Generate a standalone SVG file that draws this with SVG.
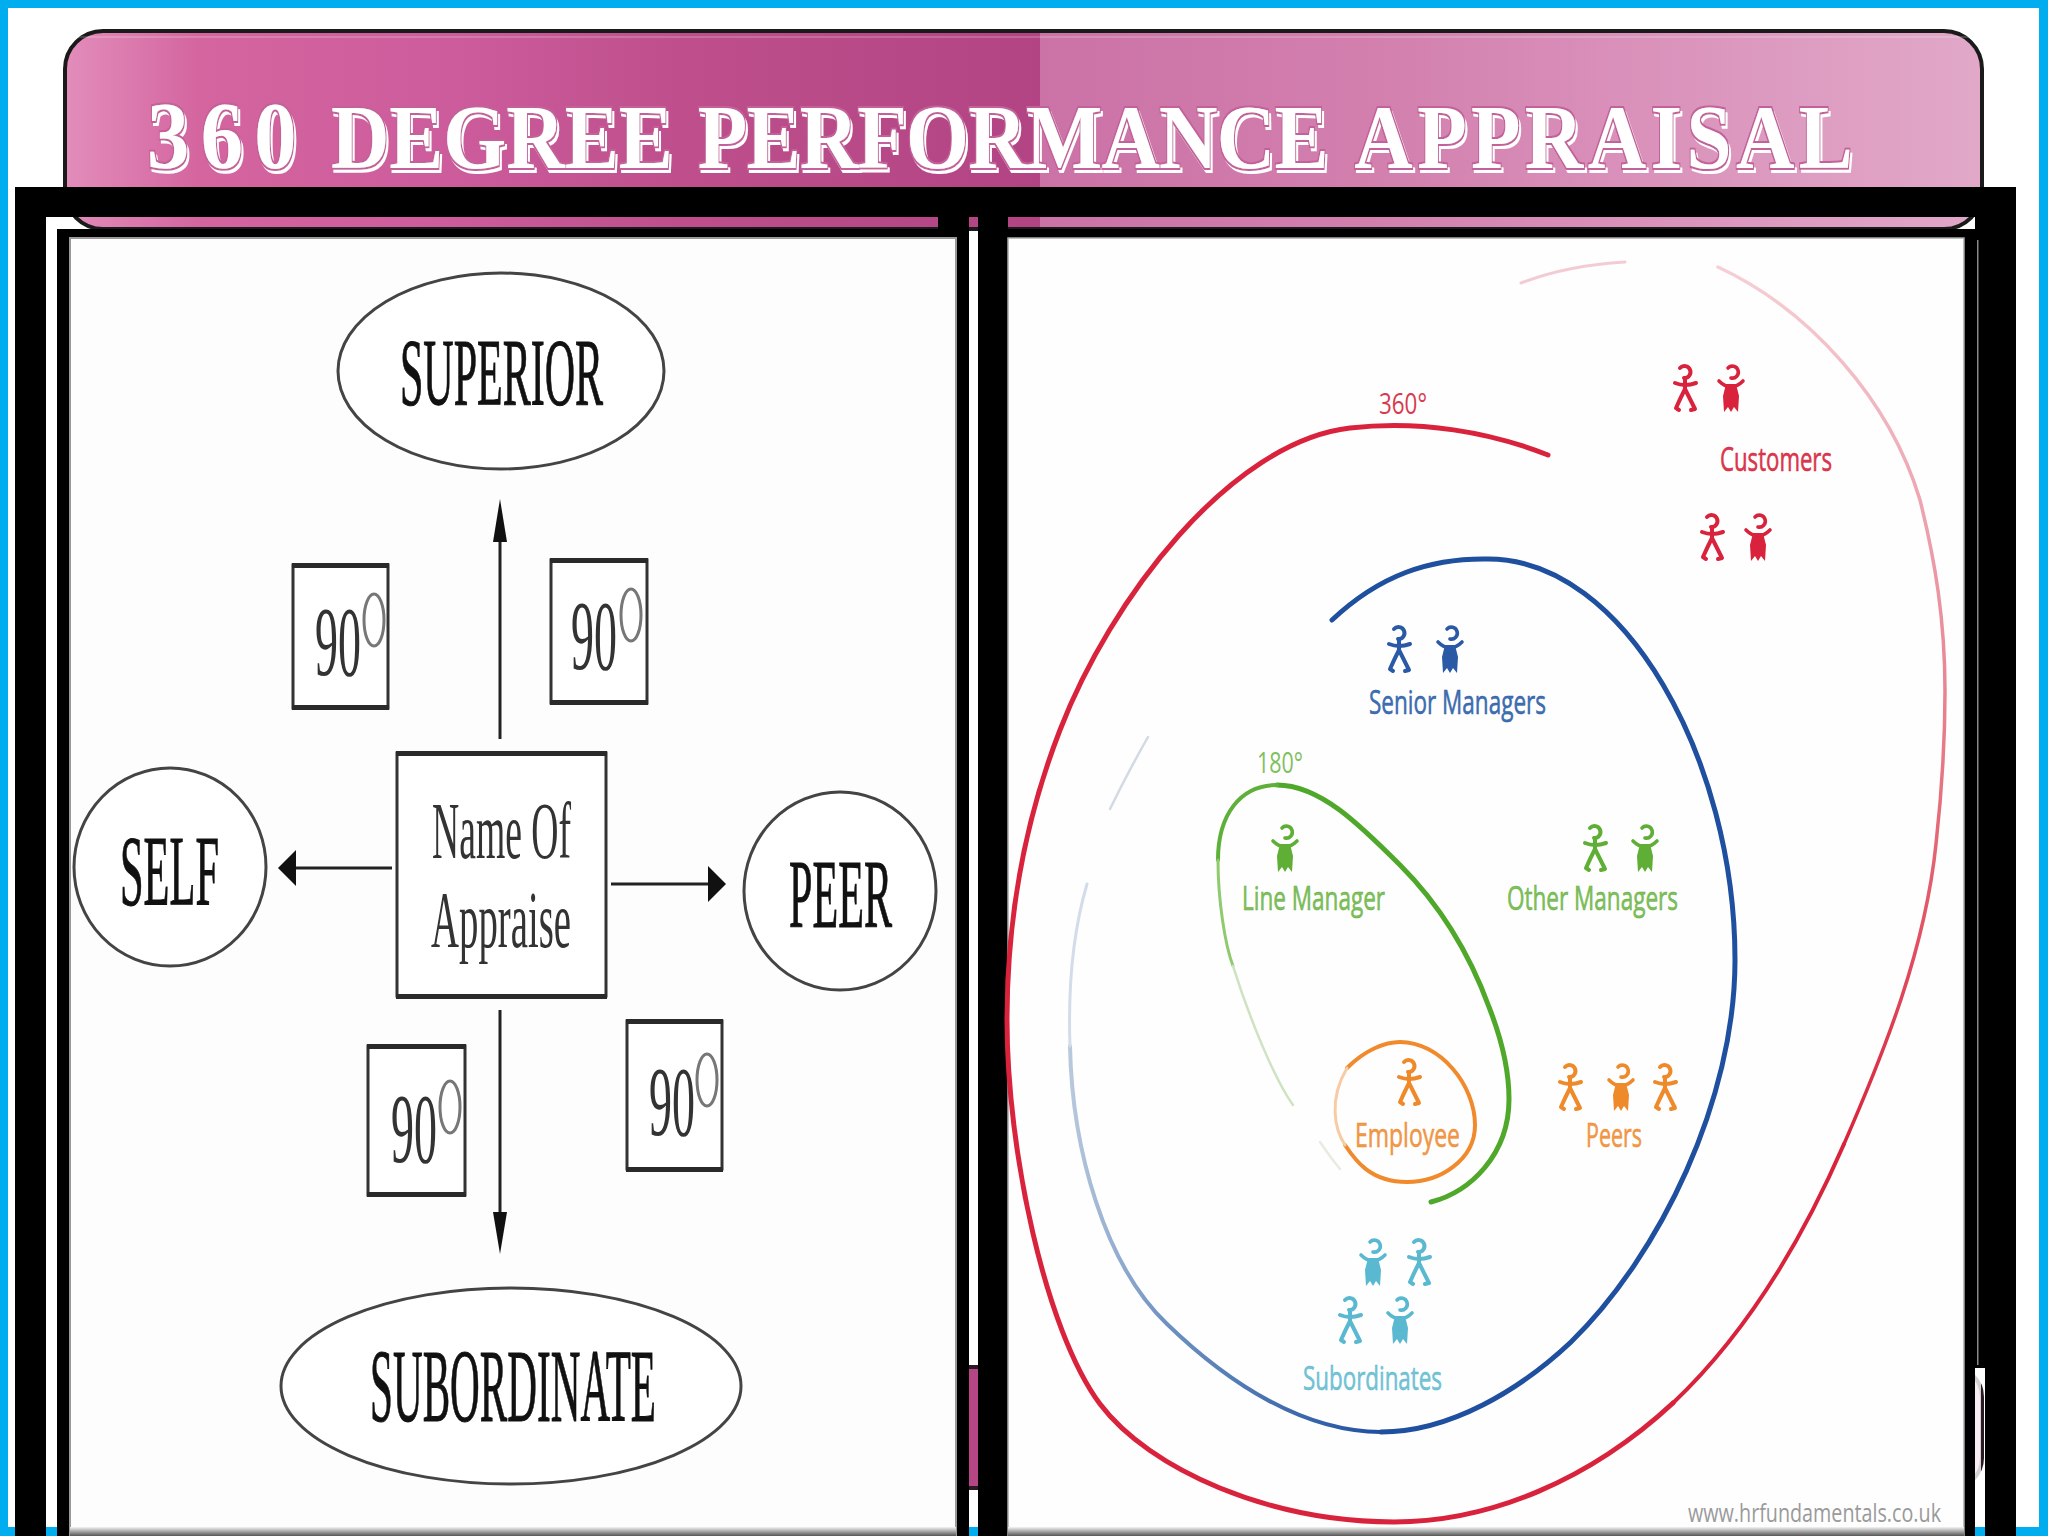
<svg xmlns="http://www.w3.org/2000/svg" width="2048" height="1536" viewBox="0 0 2048 1536">
<style>
.title{font-family:"Liberation Serif",serif;font-weight:700;font-size:92px;fill:#fff}
.lbl{font-family:"Liberation Serif",serif;fill:#111;stroke:#111;stroke-width:1}
.soft{font-family:"Liberation Serif",serif;fill:#333}
.box{fill:#fff;stroke:#333;stroke-width:3}
.bar{fill:#2a2a2a}
.oval{fill:#fff;stroke:#444;stroke-width:3}
.deg{fill:none;stroke:#777;stroke-width:3}
.conn{stroke:#222;stroke-width:3;fill:none}
.ppl{font-family:"Open Sans","Liberation Sans",sans-serif;font-size:32px;stroke:currentColor;stroke-width:.5}
.red{color:#d9233c;fill:#d8394e}.blue{color:#2a5aa6;fill:#3f6fb2}.green{color:#5fae35;fill:#7fc05f}.orange{color:#ef8a2a;fill:#f0994a}.teal{color:#5ab8d0;fill:#74c4d6}
</style>
<defs>
<linearGradient id="pinkL" gradientUnits="userSpaceOnUse" x1="65" y1="0" x2="1982" y2="0">
<stop offset="0" stop-color="#e28dbb"/><stop offset=".07" stop-color="#d4659f"/><stop offset=".2" stop-color="#cc5c9c"/><stop offset=".32" stop-color="#be4f8c"/><stop offset=".5086" stop-color="#b34484"/><stop offset=".5086" stop-color="#cb72a6"/><stop offset=".68" stop-color="#d27fae"/><stop offset=".85" stop-color="#db95bd"/><stop offset="1" stop-color="#e1a8c8"/>
</linearGradient>
<linearGradient id="shade" x1="0" y1="0" x2="0" y2="1"><stop offset="0" stop-color="#f4f4f4"/><stop offset="1" stop-color="#555"/></linearGradient>
<linearGradient id="redFade" gradientUnits="userSpaceOnUse" x1="0" y1="267" x2="0" y2="1144"><stop offset="0" stop-color="#f5d0d6"/><stop offset=".3" stop-color="#eca0ad"/><stop offset=".6" stop-color="#e5727f"/><stop offset="1" stop-color="#d9233c"/></linearGradient>
<linearGradient id="blueFade" gradientUnits="userSpaceOnUse" x1="1070" y1="0" x2="1381" y2="0"><stop offset="0" stop-color="#b8c8dd"/><stop offset=".3" stop-color="#6f92c2"/><stop offset="1" stop-color="#1f4f9f"/></linearGradient>
<filter id="ornate" x="-2%" y="-15%" width="104%" height="130%">
<feOffset in="SourceAlpha" dx="2" dy="4" result="o"/>
<feMorphology in="o" operator="dilate" radius="1" result="od"/>
<feFlood flood-color="#ffffff"/><feComposite in2="od" operator="in" result="w"/>
<feMorphology in="SourceAlpha" operator="dilate" radius="1.5" result="d"/>
<feFlood flood-color="#c4609a"/><feComposite in2="d" operator="in" result="p"/>
<feMerge><feMergeNode in="w"/><feMergeNode in="p"/><feMergeNode in="SourceGraphic"/></feMerge>
</filter>
<symbol id="man" viewBox="0 0 24 50" overflow="visible">
<g fill="none" stroke="currentColor" stroke-width="4" stroke-linecap="round" stroke-linejoin="round">
<path d="M7 5 A6 6 0 1 1 11 15"/><path d="M12 15 L12 26"/><path d="M2 20 Q12 24 23 20"/><path d="M12 26 Q7 36 3 45 L6 47"/><path d="M12 26 Q17 36 22 46 L18 47"/>
</g></symbol>
<symbol id="woman" viewBox="0 0 26 50" overflow="visible">
<g fill="none" stroke="currentColor" stroke-width="3.6" stroke-linecap="round">
<path d="M10 5 A6 6 0 1 1 13 15"/><path d="M1 18 Q7 24 13 24 Q19 24 25 18"/>
</g><path d="M8 21 H18 L21 33 L20 49 L16 44 L13 49 L10 44 L6 49 L5 33Z" fill="currentColor"/></symbol>
</defs>

<g id="background">
<rect width="2048" height="1536" fill="#00aeef"/>
<rect x="8" y="8" width="2031" height="1519" fill="#fff"/>
</g>

<g id="title-panel">
<rect x="65" y="31" width="1917" height="198" rx="38" fill="url(#pinkL)" stroke="#1a1a1a" stroke-width="4"/>
<rect x="68" y="36" width="1911" height="2" fill="#fff" opacity=".18"/>
<rect x="65" y="1367" width="1917" height="121" rx="30" fill="url(#pinkL)" stroke="#2a1a22" stroke-width="4"/>
<rect x="1975" y="1369" width="6" height="117" fill="#fff" opacity=".8"/>
<text class="title" y="168" transform="scale(.88 1)" filter="url(#ornate)"><tspan x="167" font-size="96" letter-spacing="13">360</tspan> <tspan x="376">DEGREE</tspan> <tspan x="793" letter-spacing="-.9">PERFORMANCE</tspan> <tspan x="1539" letter-spacing="5">APPRAISAL</tspan></text>
</g>

<g id="frames" fill="#000">
<rect x="15" y="187" width="2001" height="30"/>
<rect x="15" y="187" width="31" height="1349"/>
<rect x="938" y="187" width="31" height="42"/>
<rect x="978" y="187" width="30" height="1349"/>
<rect x="1985" y="187" width="31" height="1349"/>
<rect x="57" y="229" width="912" height="1307"/>
<rect x="1008" y="229" width="967" height="1307"/>
<rect x="1975" y="217" width="10" height="1151"/>
<rect x="1977" y="240" width="1.5" height="1125" fill="#8a8a8a"/>
</g>

<g id="picture-left">
<rect x="70" y="238" width="886" height="1298" fill="#fefdfe" stroke="#999" stroke-width="2"/>
<rect x="70" y="1527" width="886" height="9" fill="url(#shade)"/>
</g>
<g id="picture-right">
<rect x="1008" y="238" width="956" height="1298" fill="#fefefe" stroke="#aaa" stroke-width="1.5"/>
<rect x="1008" y="1527" width="956" height="9" fill="url(#shade)"/>
</g>

<g id="connectors">
<path class="conn" d="M500 739 V530"/><path d="M500 499 L507 542 L493 542Z" fill="#111"/>
<path class="conn" d="M392 868 H292"/><path d="M278 868 L296 850 L296 886Z" fill="#111"/>
<path class="conn" d="M611 884 H712"/><path d="M726 884 L708 866 L708 902Z" fill="#111"/>
<path class="conn" d="M500 1010 V1225"/><path d="M500 1254 L507 1212 L493 1212Z" fill="#111"/>
</g>

<g id="node-superior"><ellipse class="oval" cx="501" cy="371" rx="163" ry="98"/>
<text class="lbl" x="400" y="405" font-size="95" textLength="203" lengthAdjust="spacingAndGlyphs">SUPERIOR</text></g>
<g id="node-self"><ellipse class="oval" cx="170" cy="867" rx="96" ry="99"/>
<text class="lbl" x="120" y="904" font-size="100" textLength="99" lengthAdjust="spacingAndGlyphs">SELF</text></g>
<g id="node-peer"><ellipse class="oval" cx="840" cy="891" rx="96" ry="99"/>
<text class="lbl" x="789" y="927" font-size="98" textLength="103" lengthAdjust="spacingAndGlyphs">PEER</text></g>
<g id="node-subordinate"><ellipse class="oval" cx="511" cy="1386" rx="230" ry="98"/>
<text class="lbl" x="370" y="1421" font-size="104" textLength="286" lengthAdjust="spacingAndGlyphs">SUBORDINATE</text></g>
<g id="node-appraise"><rect class="box" x="397" y="753" width="209" height="243"/><rect class="bar" x="396" y="751" width="211" height="5"/><rect class="bar" x="396" y="994" width="211" height="5"/>
<text class="soft" x="432" y="858" font-size="80" textLength="139" lengthAdjust="spacingAndGlyphs">Name Of</text>
<text class="soft" x="431" y="947" font-size="80" textLength="140" lengthAdjust="spacingAndGlyphs">Appraise</text></g>

<g id="node-90a"><rect class="box" x="293" y="565" width="95" height="143"/><rect class="bar" x="292" y="563" width="97" height="5"/><rect class="bar" x="292" y="705" width="97" height="5"/>
<text class="soft" x="315" y="675" font-size="100" textLength="46" lengthAdjust="spacingAndGlyphs">90</text><ellipse class="deg" cx="374" cy="620" rx="10" ry="26"/></g>
<g id="node-90b"><rect class="box" x="551" y="560" width="96" height="143"/><rect class="bar" x="550" y="558" width="98" height="5"/><rect class="bar" x="550" y="700" width="98" height="5"/>
<text class="soft" x="571" y="669" font-size="100" textLength="46" lengthAdjust="spacingAndGlyphs">90</text><ellipse class="deg" cx="631" cy="615" rx="10" ry="26"/></g>
<g id="node-90c"><rect class="box" x="368" y="1046" width="97" height="149"/><rect class="bar" x="367" y="1044" width="99" height="5"/><rect class="bar" x="367" y="1192" width="99" height="5"/>
<text class="soft" x="391" y="1162" font-size="100" textLength="46" lengthAdjust="spacingAndGlyphs">90</text><ellipse class="deg" cx="450" cy="1107" rx="10" ry="26"/></g>
<g id="node-90d"><rect class="box" x="627" y="1021" width="95" height="148"/><rect class="bar" x="626" y="1019" width="97" height="5"/><rect class="bar" x="626" y="1167" width="97" height="5"/>
<text class="soft" x="649" y="1135" font-size="100" textLength="46" lengthAdjust="spacingAndGlyphs">90</text><ellipse class="deg" cx="707" cy="1080" rx="10" ry="26"/></g>

<g id="circle-360" fill="none" stroke-linecap="round">
<path d="M1548 455 C1490 432 1420 420 1350 428 C1230 442 1110 600 1060 730 C1025 820 1007 920 1007 1020 C1007 1150 1045 1330 1100 1404 C1150 1470 1270 1522 1394 1522 C1490 1522 1590 1480 1673 1403" stroke="#d9233c" stroke-width="5"/>
<path d="M1673 1403 C1745 1335 1800 1245 1844 1144" stroke="#d9233c" stroke-width="4"/>
<path d="M1844 1144 C1885 1050 1925 950 1936 844 C1942 790 1945 740 1945 691 C1945 620 1935 560 1920 500 C1890 400 1810 310 1718 267" stroke="url(#redFade)" stroke-width="3.5"/>
<path d="M1521 283 C1555 270 1590 264 1625 262" stroke="#f3ccd3" stroke-width="3"/>
<text x="1379" y="414" font-family="'Open Sans','Liberation Sans',sans-serif" font-size="29" class="red" stroke="none" textLength="48" lengthAdjust="spacingAndGlyphs">360°</text>
</g>
<g id="circle-blue" fill="none" stroke-linecap="round">
<path d="M1332 620 C1380 575 1430 558 1488 559 C1625 559 1735 760 1735 960 C1735 1100 1660 1255 1571 1342 C1520 1390 1450 1432 1381 1432" stroke="#1f4f9f" stroke-width="5"/>
<path d="M1381 1432 C1305 1432 1230 1385 1167 1324 C1105 1265 1072 1150 1070 1046" stroke="url(#blueFade)" stroke-width="4"/>
<path d="M1070 1046 C1068 990 1072 935 1087 884" stroke="#d3dcea" stroke-width="3"/>
<path d="M1110 809 Q1128 772 1148 737" stroke="#d3dae4" stroke-width="2.5"/>
</g>
<g id="circle-180" fill="none" stroke-linecap="round">
<path d="M1431 1202 C1470 1192 1509 1155 1509 1099 C1509 1065 1500 1035 1489 1007 C1470 955 1440 905 1400 865 C1360 825 1320 785 1277 785" stroke="#4fa82a" stroke-width="5"/>
<path d="M1277 785 C1240 785 1218 815 1218 860" stroke="#5fb03a" stroke-width="4"/>
<path d="M1218 860 C1218 900 1225 945 1233 966" stroke="#8fca6f" stroke-width="3"/>
<path d="M1233 966 C1250 1020 1275 1080 1293 1105" stroke="#cfe3c3" stroke-width="2.5"/>
<path d="M1320 1142 Q1330 1157 1340 1169" stroke="#e6ece0" stroke-width="2.5"/>
<text x="1257" y="773" font-family="'Open Sans','Liberation Sans',sans-serif" font-size="29" class="green" stroke="none" textLength="46" lengthAdjust="spacingAndGlyphs">180°</text>
</g>
<g id="node-employee" fill="none" stroke-linecap="round">
<path d="M1347 1068 C1365 1050 1385 1042 1400 1042 C1440 1042 1475 1085 1475 1125 C1475 1160 1440 1182 1407 1182 C1370 1182 1355 1160 1345 1145" stroke="#f08a2c" stroke-width="4"/>
<path d="M1345 1145 C1335 1130 1328 1100 1347 1068" stroke="#f7cba3" stroke-width="3"/>
<use href="#man" x="1397" y="1057" width="24" height="50" class="orange"/>
<text class="ppl orange" x="1355" y="1147" textLength="105" lengthAdjust="spacingAndGlyphs">Employee</text>
</g>
<g id="node-customers">
<use href="#man" x="1673" y="363" width="24" height="50" class="red"/><use href="#woman" x="1718" y="363" width="26" height="50" class="red"/>
<use href="#man" x="1700" y="512" width="24" height="50" class="red"/><use href="#woman" x="1745" y="512" width="26" height="50" class="red"/>
<text class="ppl red" x="1720" y="471" textLength="112" lengthAdjust="spacingAndGlyphs">Customers</text>
</g>
<g id="node-senior-managers">
<use href="#man" x="1387" y="624" width="24" height="50" class="blue"/><use href="#woman" x="1437" y="624" width="26" height="50" class="blue"/>
<text class="ppl blue" x="1369" y="714" textLength="177" lengthAdjust="spacingAndGlyphs">Senior Managers</text>
</g>
<g id="node-line-manager">
<use href="#woman" x="1272" y="823" width="26" height="50" class="green"/>
<text class="ppl green" x="1242" y="910" textLength="143" lengthAdjust="spacingAndGlyphs">Line Manager</text>
</g>
<g id="node-other-managers">
<use href="#man" x="1583" y="823" width="24" height="50" class="green"/><use href="#woman" x="1632" y="823" width="26" height="50" class="green"/>
<text class="ppl green" x="1507" y="910" textLength="171" lengthAdjust="spacingAndGlyphs">Other Managers</text>
</g>
<g id="node-peers">
<use href="#man" x="1558" y="1062" width="24" height="50" class="orange"/><use href="#woman" x="1608" y="1062" width="26" height="50" class="orange"/><use href="#man" x="1653" y="1062" width="24" height="50" class="orange"/>
<text class="ppl orange" x="1586" y="1147" textLength="56" lengthAdjust="spacingAndGlyphs">Peers</text>
</g>
<g id="node-subordinates">
<use href="#woman" x="1360" y="1237" width="26" height="50" class="teal"/><use href="#man" x="1407" y="1237" width="24" height="50" class="teal"/>
<use href="#man" x="1338" y="1295" width="24" height="50" class="teal"/><use href="#woman" x="1387" y="1295" width="26" height="50" class="teal"/>
<text class="ppl teal" x="1303" y="1390" textLength="139" lengthAdjust="spacingAndGlyphs">Subordinates</text>
</g>
<text id="credit" x="1688" y="1522" font-family="'Open Sans','Liberation Sans',sans-serif" font-size="25" fill="#9a9a9a" textLength="253" lengthAdjust="spacingAndGlyphs">www.hrfundamentals.co.uk</text>
</svg>
